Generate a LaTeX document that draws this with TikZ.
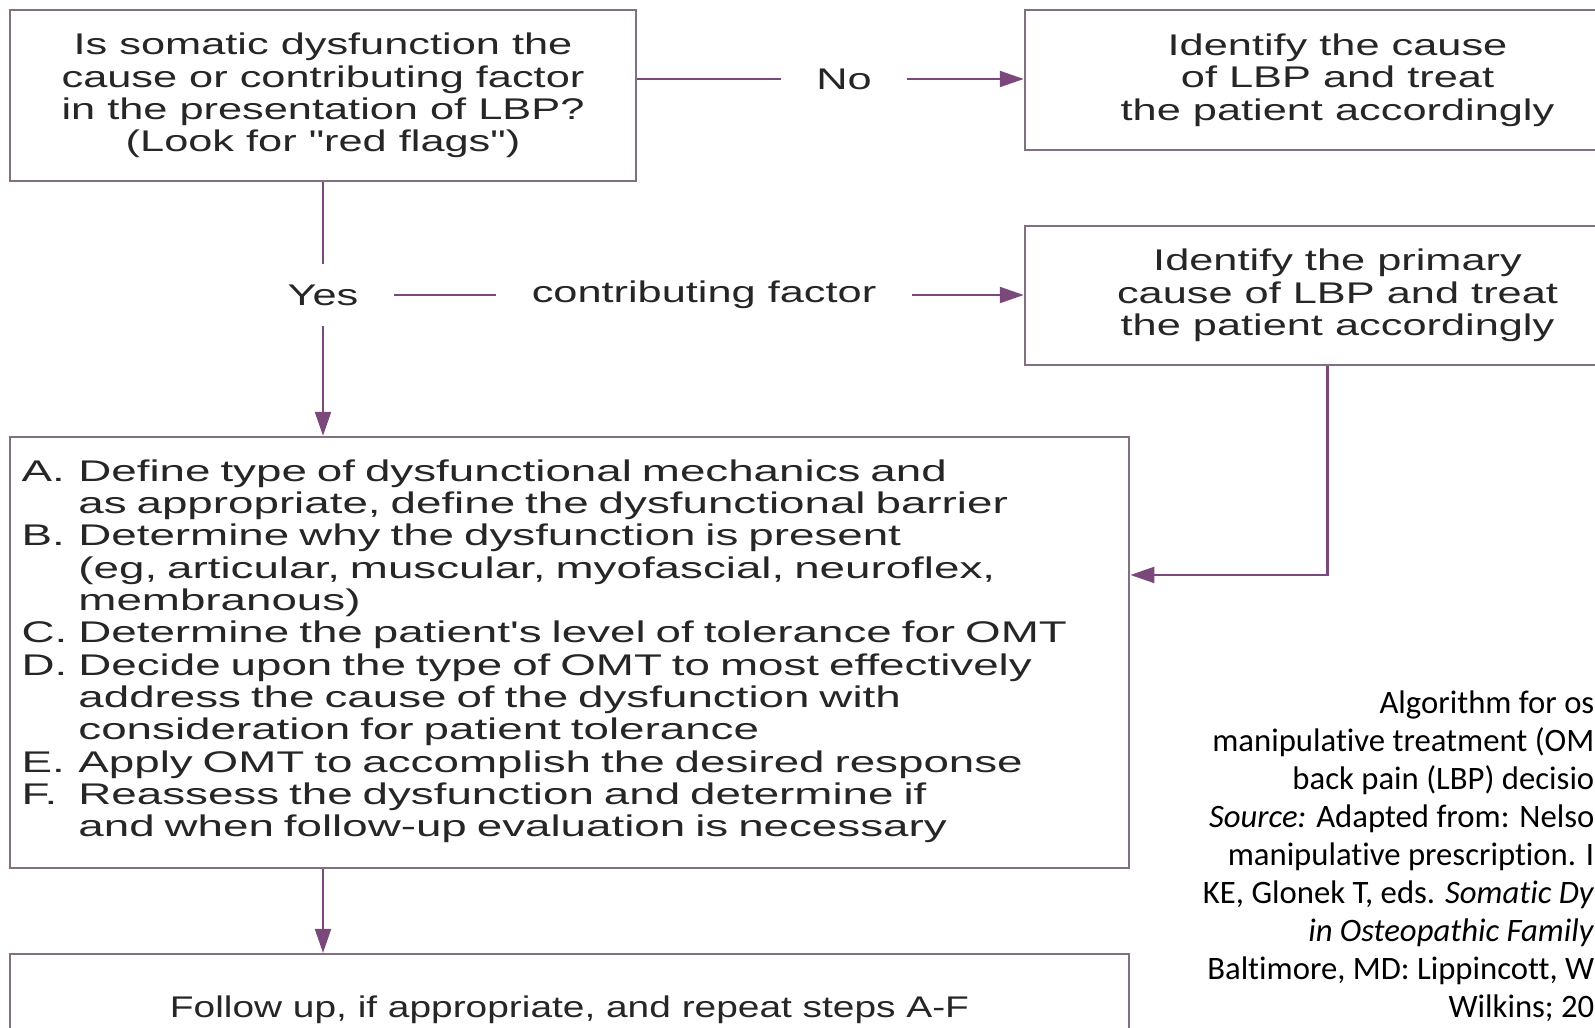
\documentclass[tikz,border=0pt]{standalone}
\usepackage{fontspec}
\setmainfont{Liberation Sans}
\newfontfamily\boxfont[FakeStretch=1.45]{Liberation Sans}
\newfontfamily\listfont[FakeStretch=1.53]{Liberation Sans}
\newfontfamily\followfont[FakeStretch=1.3]{Liberation Sans}
\newfontfamily\capfont[Ligatures=NoCommon]{Carlito}
\usepackage{xcolor}
\usetikzlibrary{arrows.meta, positioning}
\definecolor{linkcol}{RGB}{122,72,122}
\definecolor{framecol}{RGB}{128,112,128}
\definecolor{inkcol}{RGB}{38,38,38}

\begin{document}
\begin{tikzpicture}[
        x=0.01cm, y=-0.01cm,
        every node/.style={text=inkcol},
        box/.style={draw=framecol, line width=0.6pt, inner sep=0pt, align=center, font=\boxfont\fontsize{8.5}{9.2}\selectfont},
        lbl/.style={inner xsep=0.35cm, inner ysep=0.2cm, font=\boxfont\fontsize{8.5}{9.2}\selectfont},
        link/.style={draw=linkcol, line width=0.6pt},
        >={Triangle[length=0.24cm, width=0.16cm]}
    ]

    % Canvas
    \fill[white] (0,0) rectangle (1595,1027);
    \useasboundingbox (0,0) rectangle (1595,1027);

    % Question
    \node[box, minimum width=6.26cm, minimum height=1.71cm] (question) at (323,95.5) {Is somatic dysfunction the\\cause or contributing factor\\in the presentation of LBP?\\(Look for "red flags")};

    % Outcome boxes
    \node[box, minimum width=6.25cm, minimum height=1.40cm] (cause) at (1337.5,80) {Identify the cause\\of LBP and treat\\the patient accordingly};
    \node[box, minimum width=6.25cm, minimum height=1.39cm] (primary) at (1337.5,295.5) {Identify the primary\\cause of LBP and treat\\the patient accordingly};

    % Answer labels
    \node[lbl] (no) at (844,79) {No};
    \node[lbl] (yes) at (323,295) {Yes};
    \node[lbl] (contrib) at (704,295) {contributing factor};

    % Treatment steps
    \node[box, minimum width=11.19cm, minimum height=4.31cm, text width=10.95cm, align=left, font=\listfont\fontsize{8.5}{9.2}\selectfont] (steps) at (569.5,652.5) {%
        \begin{tabular}{@{}l@{\hspace{0.11cm}}l@{}}
        A. & Define type of dysfunctional mechanics and\\
           & as appropriate, define the dysfunctional barrier\\
        B. & Determine why the dysfunction is present\\
           & (eg, articular, muscular, myofascial, neuroflex,\\
           & membranous)\\
        C. & Determine the patient's level of tolerance for OMT\\
        D. & Decide upon the type of OMT to most effectively\\
           & address the cause of the dysfunction with\\
           & consideration for patient tolerance\\
        E. & Apply OMT to accomplish the desired response\\
        F. & Reassess the dysfunction and determine if\\
           & and when follow-up evaluation is necessary
        \end{tabular}};

    % Follow up
    \node[box, minimum width=11.19cm, minimum height=1.12cm, font=\followfont\fontsize{8.5}{9.2}\selectfont] (follow) at (569.5,1010) {Follow up, if appropriate, and repeat steps A-F};

    % Caption
    \node[anchor=north east, inner sep=0pt, align=right, font=\capfont\fontsize{9.3}{10.8}\selectfont, text=black] (caption) at (1595,690) {Algorithm for os\\manipulative treatment (OM\\back pain (LBP) decisio\\\textit{Source:} Adapted from: Nelso\\manipulative prescription. I\\KE, Glonek T, eds. \textit{Somatic Dy}\\\textit{in Osteopathic Family}\\Baltimore, MD: Lippincott, W\\Wilkins; 20};

    % Connectors
    \draw[link] (question.east |- no) -- (no);
    \draw[link, ->] (no) -- (no -| cause.west);
    \draw[link] (question) -- (yes);
    \draw[link, ->] (yes) -- (steps.north -| yes);
    \draw[link] (yes) -- (contrib);
    \draw[link, ->] (contrib) -- (contrib -| primary.west);
    \draw[link, ->] ([xshift=-0.1cm]primary.south) |- ([yshift=0.775cm]steps.east);
    \draw[link, ->] (steps.south -| question) -- (follow.north -| question);

\end{tikzpicture}
\end{document}
